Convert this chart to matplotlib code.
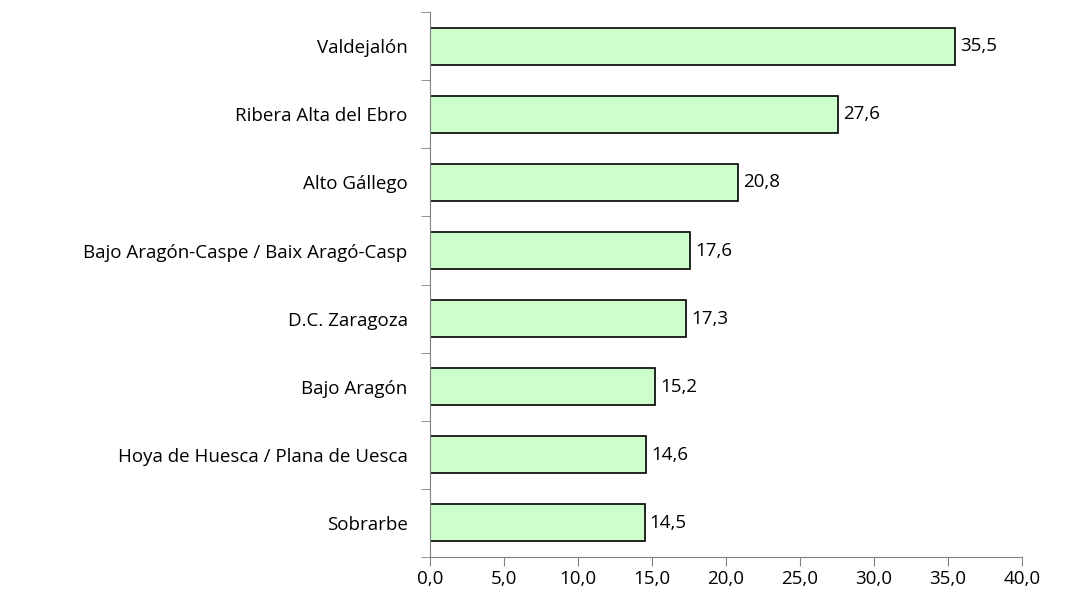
import numpy as np
import matplotlib.pyplot as plt
from matplotlib.ticker import FixedLocator, NullFormatter

comarcas = ["Valdejalón", "Ribera Alta del Ebro", "Alto Gállego",
            "Bajo Aragón-Caspe / Baix Aragó-Casp", "D.C. Zaragoza",
            "Bajo Aragón", "Hoya de Huesca / Plana de Uesca", "Sobrarbe"]
valores = [35.5, 27.6, 20.8, 17.6, 17.3, 15.2, 14.6, 14.5]
xticks = [0, 5, 10, 15, 20, 25, 30, 35, 40]

plt.rcParams['font.family'] = ['Open Sans', 'DejaVu Sans']
fs = 13.5

fig = plt.figure(figsize=(10.76, 6.10), dpi=100)
ax = fig.add_axes([0.3996, 0.087, 0.5502, 0.893])

y = np.arange(len(comarcas))[::-1]
ax.barh(y, valores, height=0.54, color="#CCFFCC", edgecolor="black", linewidth=1.2)

for yi, v in zip(y, valores):
    ax.text(v + 0.33, yi, f"{v:.1f}".replace(".", ","), va="center", ha="left", fontsize=fs)

ax.set_xlim(0, 40)
ax.set_ylim(-0.5, len(comarcas) - 0.5)
ax.set_xticks(xticks)
ax.set_xticklabels([f"{t:.1f}".replace(".", ",") for t in xticks], fontsize=fs)
ax.set_yticks(y)
ax.set_yticklabels(comarcas, fontsize=fs)
ax.tick_params(axis="y", which="major", length=0, pad=16)
ax.yaxis.set_minor_locator(FixedLocator(np.arange(-0.5, len(comarcas), 1.0)))
ax.yaxis.set_minor_formatter(NullFormatter())
ax.tick_params(axis="y", which="minor", length=6.5, color="#808080")
ax.tick_params(axis="x", length=6.5, color="#808080", pad=3)

for s in ["top", "right"]:
    ax.spines[s].set_visible(False)
for s in ["left", "bottom"]:
    ax.spines[s].set_color("#808080")

fig.savefig("out.png", dpi=100)
